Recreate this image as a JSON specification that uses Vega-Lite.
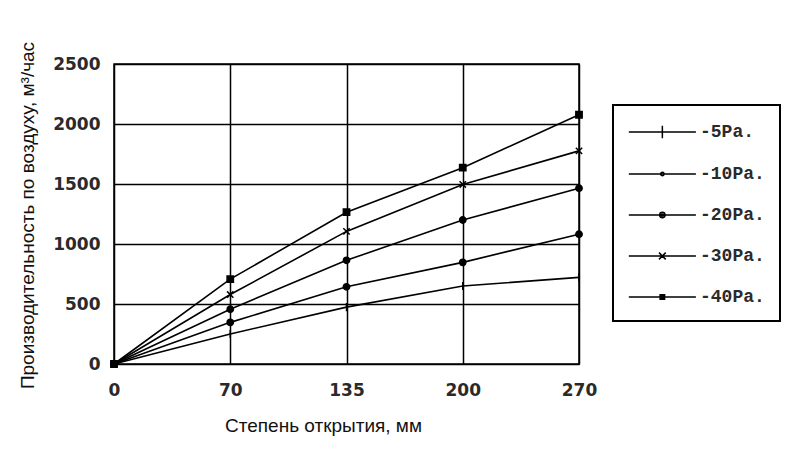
{
  "$schema": "https://vega.github.io/schema/vega-lite/v6.json",
  "width": 465,
  "height": 300,
  "autosize": {"type": "none"},
  "padding": {"left": 114, "top": 64, "right": 207, "bottom": 104},
  "background": "white",
  "config": {
    "view": {"stroke": "black", "strokeWidth": 1.5},
    "legend": {"strokeWidth": 2},
    "axis": {
      "grid": true,
      "gridColor": "black",
      "gridOpacity": 1,
      "gridWidth": 1.5,
      "domain": false,
      "ticks": false,
      "labelFont": "DejaVu Sans",
      "labelFontWeight": "bold",
      "labelFontSize": 17,
      "labelColor": "#2a2a2a",
      "titleFont": "Liberation Sans",
      "titleFontWeight": "normal",
      "titleFontSize": 19,
      "titleColor": "#111"
    }
  },
  "data": {
    "values": [
      {"x": "0", "y": 0, "series": "-5Pa."},
      {"x": "70", "y": 250, "series": "-5Pa."},
      {"x": "135", "y": 474, "series": "-5Pa."},
      {"x": "200", "y": 650, "series": "-5Pa."},
      {"x": "270", "y": 722, "series": "-5Pa."},
      {"x": "0", "y": 0, "series": "-10Pa."},
      {"x": "70", "y": 347, "series": "-10Pa."},
      {"x": "135", "y": 643, "series": "-10Pa."},
      {"x": "200", "y": 847, "series": "-10Pa."},
      {"x": "270", "y": 1082, "series": "-10Pa."},
      {"x": "0", "y": 0, "series": "-20Pa."},
      {"x": "70", "y": 457, "series": "-20Pa."},
      {"x": "135", "y": 864, "series": "-20Pa."},
      {"x": "200", "y": 1200, "series": "-20Pa."},
      {"x": "270", "y": 1465, "series": "-20Pa."},
      {"x": "0", "y": 0, "series": "-30Pa."},
      {"x": "70", "y": 579, "series": "-30Pa."},
      {"x": "135", "y": 1105, "series": "-30Pa."},
      {"x": "200", "y": 1496, "series": "-30Pa."},
      {"x": "270", "y": 1776, "series": "-30Pa."},
      {"x": "0", "y": 0, "series": "-40Pa."},
      {"x": "70", "y": 707, "series": "-40Pa."},
      {"x": "135", "y": 1265, "series": "-40Pa."},
      {"x": "200", "y": 1636, "series": "-40Pa."},
      {"x": "270", "y": 2077, "series": "-40Pa."}
    ]
  },
  "encoding": {
    "x": {
      "field": "x",
      "type": "ordinal",
      "scale": {"type": "point", "domain": ["0", "70", "135", "200", "270"], "padding": 0},
      "axis": {
        "labelAngle": 0,
        "labelPadding": 18,
        "title": "Степень открытия, мм",
        "titleX": 209,
        "titleY": 61,
        "titleBaseline": "middle",
        "titleAlign": "center"
      }
    },
    "y": {
      "field": "y",
      "type": "quantitative",
      "scale": {"domain": [0, 2500], "nice": false},
      "axis": {
        "values": [0, 500, 1000, 1500, 2000, 2500],
        "format": "d",
        "labelPadding": 14,
        "title": "Производительность по воздуху, м³/час",
        "titleX": -87,
        "titleY": 151,
        "titleAngle": -90,
        "titleBaseline": "middle",
        "titleAlign": "center"
      }
    }
  },
  "layer": [
    {
      "mark": {"type": "line", "color": "black", "strokeWidth": 1.6},
      "encoding": {"detail": {"field": "series"}}
    },
    {
      "mark": {"type": "point", "filled": false, "color": "black", "strokeWidth": 1.5, "opacity": 0},
      "encoding": {
        "shape": {
          "field": "series",
          "type": "nominal",
          "scale": {
            "domain": ["-5Pa.", "-10Pa.", "-20Pa.", "-30Pa.", "-40Pa."],
            "range": [
              "M-1,0H5M2,-0.55V0.55",
              "M-1,0H5M2.15,0A0.15,0.15,0,1,1,1.85,0A0.15,0.15,0,1,1,2.15,0",
              "M-1,0H5M2.24,0A0.24,0.24,0,1,1,1.76,0A0.24,0.24,0,1,1,2.24,0M2.1,0A0.1,0.1,0,1,1,1.9,0A0.1,0.1,0,1,1,2.1,0",
              "M-1,0H5M1.7,-0.3L2.3,0.3M1.7,0.3L2.3,-0.3",
              "M-1,0H5M1.8,-0.2H2.2V0.2H1.8ZM1.8,-0.08H2.2M1.8,0.08H2.2"
            ]
          },
          "legend": {
            "title": null,
            "orient": "none",
            "legendX": 499,
            "legendY": 41,
            "padding": 15,
            "strokeColor": "black",
            "symbolSize": 500,
            "symbolStrokeWidth": 1.5,
            "symbolStrokeColor": "black",
            "symbolOpacity": 1,
            "rowPadding": 20,
            "labelOffset": 48,
            "labelFont": "Liberation Mono",
            "labelFontSize": 18,
            "labelFontWeight": "bold",
            "labelColor": "#2a2a2a"
          }
        }
      }
    },
    {
      "mark": {"type": "point", "filled": true, "color": "black", "stroke": "black", "strokeWidth": 1.5, "size": 40, "opacity": 1},
      "encoding": {
        "shape": {
          "field": "series",
          "type": "nominal",
          "scale": {
            "domain": ["-5Pa.", "-10Pa.", "-20Pa.", "-30Pa.", "-40Pa."],
            "range": [
              "M0,-1.3V1.3",
              "circle",
              "circle",
              "M-1,-1L1,1M-1,1L1,-1",
              "square"
            ]
          },
          "legend": null
        }
      }
    }
  ],
  "resolve": {"scale": {"shape": "independent"}, "legend": {"shape": "independent"}}
}
